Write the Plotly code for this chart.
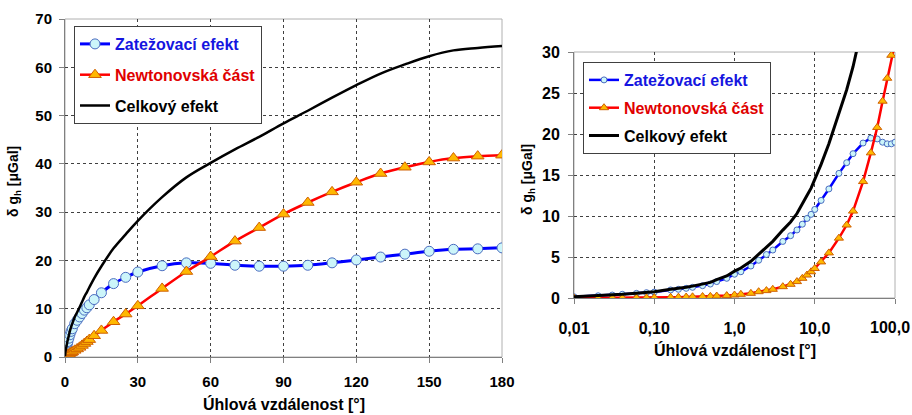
import plotly.graph_objects as go

# Angular distance [deg]
angle = [0.01, 0.02, 0.03, 0.04, 0.06, 0.08, 0.1,
         0.16, 0.2, 0.25, 0.3, 0.4, 0.5, 0.6, 0.8,
         1.0, 1.2, 1.6, 2.0, 2.5, 3,
         4, 5, 6, 7, 8, 9, 10,
         12, 15, 20, 25, 30,
         40, 50, 60, 70, 80, 90, 100,
         110, 120, 130, 140, 150, 160, 170, 180]

# Zatěžovací efekt (loading effect) [uGal]
loading = [0.15, 0.27, 0.36, 0.45, 0.57, 0.65, 0.72,
           0.98, 1.06, 1.18, 1.30, 1.50, 1.70, 2.00, 2.40,
           2.90, 3.20, 3.90, 4.60, 5.30, 5.85,
           6.90, 7.60, 8.30, 9.00, 9.70, 10.20, 10.80,
           11.90, 13.30, 15.20, 16.50, 17.60,
           18.90, 19.50, 19.40, 19.00, 18.80, 18.80, 19.00,
           19.50, 20.10, 20.70, 21.30, 21.90, 22.30, 22.40, 22.60]

# Newtonovská část [uGal]
newton = [0.00, 0.00, 0.01, 0.01, 0.02, 0.03, 0.05,
          0.08, 0.10, 0.12, 0.15, 0.18, 0.20, 0.24, 0.29,
          0.37, 0.45, 0.57, 0.77, 0.90, 1.06,
          1.38, 1.67, 2.00, 2.40, 2.80, 3.20, 3.60,
          4.40, 5.50, 7.30, 8.90, 10.60,
          14.20, 17.70, 20.80, 24.00, 26.80, 29.60, 32.00,
          34.20, 36.20, 38.00, 39.30, 40.40, 41.20, 41.60, 41.80]

# Celkový efekt [uGal]
total = [0.15, 0.27, 0.37, 0.46, 0.59, 0.68, 0.77,
         1.06, 1.16, 1.30, 1.45, 1.68, 1.90, 2.24, 2.69,
         3.27, 3.65, 4.47, 5.37, 6.20, 6.91,
         8.28, 9.27, 10.30, 11.40, 12.50, 13.40, 14.40,
         16.30, 18.80, 22.50, 25.40, 28.20,
         33.10, 37.20, 40.20, 43.00, 45.60, 48.40, 51.00,
         53.70, 56.30, 58.70, 60.60, 62.30, 63.50, 64.00, 64.40]

names = ["Zatežovací efekt", "Newtonovská část", "Celkový efekt"]
name_colors = ["#1515E0", "#E00000", "#000000"]

lin_xticks = [0, 30, 60, 90, 120, 150, 180]
lin_yticks = [0, 10, 20, 30, 40, 50, 60, 70]
log_xticks = [0.01, 0.1, 1, 10, 100]
log_xtext = ["0,01", "0,10", "1,0", "10,0", ""]
log_last_label = "100,0"
log_yticks = [0, 5, 10, 15, 20, 25, 30]

x_title = "Úhlová vzdálenost [°]"
y_title = "δ g<sub>h</sub> [μGal]"

W, H = 912, 415
FONT = "Liberation Sans, Arial, sans-serif"

fig = go.Figure()

def add_set(xa, ya, leg, msize_c, msize_t, lw_b, lw_r, lw_k, shape):
    fig.add_trace(go.Scatter(
        x=angle, y=loading, mode="lines+markers", xaxis=xa, yaxis=ya,
        legend=leg, legendgroup=leg + "a",
        name=f"<span style='color:{name_colors[0]}'>{names[0]}</span>",
        line=dict(color="#0000FF", width=lw_b, shape=shape),
        marker=dict(symbol="circle", size=msize_c, color="#CCF5FA",
                    line=dict(color="#4A6CC0", width=1))))
    fig.add_trace(go.Scatter(
        x=angle, y=newton, mode="lines+markers", xaxis=xa, yaxis=ya,
        legend=leg, legendgroup=leg + "b",
        name=f"<span style='color:{name_colors[1]}'>{names[1]}</span>",
        line=dict(color="#FF0000", width=lw_r, shape=shape),
        marker=dict(symbol="triangle-up", size=msize_t, color="#FFB800",
                    line=dict(color="#D06000", width=1))))
    fig.add_trace(go.Scatter(
        x=angle, y=total, mode="lines", xaxis=xa, yaxis=ya,
        legend=leg, legendgroup=leg + "c",
        name=f"<span style='color:{name_colors[2]}'>{names[2]}</span>",
        line=dict(color="#000000", width=lw_k, shape=shape)))

add_set("x", "y", "legend", 10, 11, 3, 2.5, 2.5, "spline")
add_set("x2", "y2", "legend2", 6, 8, 2.5, 2.5, 3, "linear")

# plot area pixel boxes
L1 = dict(x0=65, x1=502, y0=19, y1=357)
L2 = dict(x0=574, x1=895, y0=52, y1=298)

def dom_x(b):
    return [b["x0"] / W, b["x1"] / W]

def dom_y(b):
    return [(H - b["y1"]) / H, (H - b["y0"]) / H]

axis_common = dict(
    showline=True, linecolor="#808080", linewidth=1,
    ticks="outside", ticklen=5, tickcolor="#808080",
    showgrid=True, gridcolor="#404040", griddash="dot", gridwidth=1,
    zeroline=False, automargin=False,
)

fig.update_layout(
    width=W, height=H,
    margin=dict(l=0, r=0, t=0, b=0, autoexpand=False),
    paper_bgcolor="white", plot_bgcolor="white",
    font=dict(family=FONT, color="#000000"),
    xaxis=dict(domain=dom_x(L1), range=[0, 180], tickvals=lin_xticks,
               tickfont=dict(size=15, weight="bold"), ticklabelstandoff=6,
               anchor="y", **axis_common),
    yaxis=dict(domain=dom_y(L1), range=[0, 70], tickvals=lin_yticks,
               tickfont=dict(size=15, weight="bold"), ticklabelstandoff=4,
               anchor="x", **axis_common),
    xaxis2=dict(domain=dom_x(L2), type="log", range=[-2, 2],
                tickvals=log_xticks, ticktext=log_xtext,
                tickfont=dict(size=16, weight="bold"), ticklabelstandoff=11,
                anchor="y2", **axis_common),
    yaxis2=dict(domain=dom_y(L2), range=[0, 30], tickvals=log_yticks,
                tickfont=dict(size=16, weight="bold"), ticklabelstandoff=5,
                anchor="x2", **axis_common),
    legend=dict(x=74 / W, y=1 - 26 / H, xanchor="left", yanchor="top",
                bgcolor="white", bordercolor="#404040", borderwidth=1,
                font=dict(size=16, weight="bold", family=FONT),
                traceorder="grouped", tracegroupgap=7),
    legend2=dict(x=583 / W, y=1 - 62 / H, xanchor="left", yanchor="top",
                 bgcolor="white", bordercolor="#404040", borderwidth=1,
                 font=dict(size=16, weight="bold", family=FONT),
                 traceorder="grouped", tracegroupgap=4),
    showlegend=True,
)

# light frame around plot areas
for xr, yr in (("x", "y"), ("x2", "y2")):
    fig.add_shape(type="rect", xref=f"{xr} domain", yref=f"{yr} domain",
                  x0=0, x1=1, y0=0, y1=1, layer="below",
                  line=dict(color="#B0B0B0", width=1))

# last log tick label, nudged inside the page as in the original
fig.add_annotation(text=log_last_label, xref="paper", yref="paper",
                   x=890 / W, y=1 - 327 / H, showarrow=False,
                   font=dict(family=FONT, size=16, color="#000000", weight="bold"),
                   xanchor="center", yanchor="middle")

# axis titles
ann_font = dict(family=FONT, size=16, color="#000000", weight="bold")
fig.add_annotation(text=x_title, xref="paper", yref="paper",
                   x=(L1["x0"] + L1["x1"]) / 2 / W, y=1 - 404 / H,
                   showarrow=False, font=ann_font, xanchor="center", yanchor="middle")
fig.add_annotation(text=x_title, xref="paper", yref="paper",
                   x=(L2["x0"] + L2["x1"]) / 2 / W, y=1 - 350 / H,
                   showarrow=False, font=ann_font, xanchor="center", yanchor="middle")
yt_font = dict(family=FONT, size=14, color="#000000", weight="bold")
fig.add_annotation(text=y_title, xref="paper", yref="paper",
                   x=14 / W, y=1 - 182 / H, textangle=-90,
                   showarrow=False, font=yt_font, xanchor="center", yanchor="middle")
fig.add_annotation(text=y_title, xref="paper", yref="paper",
                   x=528 / W, y=1 - 180 / H, textangle=-90,
                   showarrow=False, font=yt_font, xanchor="center", yanchor="middle")

fig.write_html("out.html")
